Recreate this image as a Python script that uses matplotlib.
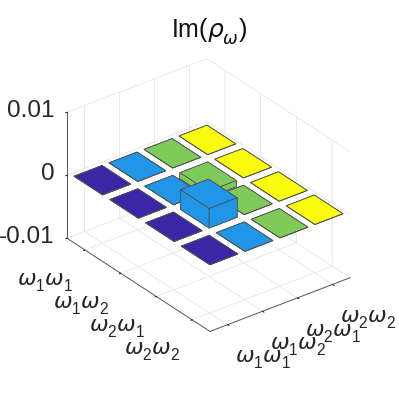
import numpy as np
import matplotlib
matplotlib.use("Agg")
import matplotlib.pyplot as plt
import matplotlib._mathtext as mathtext_internals

plt.rcParams['font.family'] = ['Liberation Sans', 'DejaVu Sans']
plt.rcParams['mathtext.fontset'] = 'custom'
plt.rcParams['mathtext.rm'] = 'Liberation Sans'
plt.rcParams['mathtext.it'] = 'DejaVu Sans:italic'
plt.rcParams['grid.color'] = '#e6e6e6'
plt.rcParams['grid.linewidth'] = 0.6
plt.rcParams['axes.linewidth'] = 0.6
mathtext_internals.FontConstantsBase.sub1 = 0.55

tick_labels = [r'$\omega_1\omega_1$', r'$\omega_1\omega_2$', r'$\omega_2\omega_1$', r'$\omega_2\omega_2$']
row_pos = [1, 2, 3, 4]
col_pos = [1, 2, 3, 4]
z_ticks = [-0.01, 0, 0.01]
z_tick_labels = ['-0.01', '0', '0.01']
values = [
    [0, 0, 0, 0],
    [0, 0, -0.00095, 0],
    [0, 0.0031, 0, 0],
    [0, 0, 0, 0],
]
col_colors = ['#3b27a6', '#2196e8', '#7fcb5a', '#fafb0f']
bar_width = 0.8

fig = plt.figure(figsize=(3.99, 3.99), dpi=100, facecolor='white')
ax = fig.add_axes([3.6 / 399, -0.9 / 399, 1, 1], projection='3d', computed_zorder=True)
ax.patch.set_alpha(0)
ax.set_proj_type('ortho')
ax.view_init(elev=30, azim=-37.5)
ax.set_box_aspect((234.9, 176.5, 145.5), zoom=0.7976)

xs, ys, dz, cols = [], [], [], []
for i, r in enumerate(row_pos):
    for j, c in enumerate(col_pos):
        xs.append(r - bar_width / 2)
        ys.append(c - bar_width / 2)
        dz.append(values[i][j])
        cols.append(col_colors[j])
ax.bar3d(xs, ys, np.zeros(len(xs)), bar_width, bar_width, dz, color=cols,
         edgecolor='#505050', linewidth=0.55, shade=False)

ax.set_xlim(0.5, 4.5, view_margin=0)
ax.set_ylim(0.5, 4.5, view_margin=0)
ax.set_zlim(-0.01, 0.01, view_margin=0)
ax.set_xticks(row_pos)
ax.set_yticks(col_pos)
ax.set_zticks(z_ticks)
ax.set_xticklabels(tick_labels, fontsize=16, color='#262626', ha='right', va='top')
ax.set_yticklabels(tick_labels, fontsize=16, color='#262626', ha='left', va='center')
ax.set_zticklabels(z_tick_labels, fontsize=17.5, color='#262626', ha='right', va='center')
ax.zaxis.set_ticks_position('lower')
ax.tick_params(axis='x', pad=9.5)
ax.tick_params(axis='y', pad=10)
ax.tick_params(axis='z', pad=-1.5)

for axis in (ax.xaxis, ax.yaxis, ax.zaxis):
    axis.set_pane_color((1, 1, 1, 0))
    axis.pane.set_edgecolor((1, 1, 1, 0))
    axis.line.set_color('#555555')
    axis.line.set_linewidth(0.7)
    axis._axinfo['tick']['inward_factor'] = 0.12
    axis._axinfo['tick']['outward_factor'] = 0.0
    axis._axinfo['tick']['linewidth'] = {True: 0.6, False: 0.6}
    axis._axinfo['tick']['color'] = '#555555'

ax.set_title(r'Im($\rho_\omega$)', fontsize=18, color='#111111', x=0.515, y=0.965)


def nudge(label, dx_px, dy_px):
    """Shift a tick label by a few pixels each time mplot3d places it."""
    unit = 0.185 / 399
    place = label.set_position
    label.set_position = lambda xy: place((xy[0] + dx_px * unit, xy[1] + dy_px * unit))


for tick in ax.xaxis.get_major_ticks():
    nudge(tick.label1, 5, 0)
for tick in ax.yaxis.get_major_ticks():
    nudge(tick.label1, -10, -9)
fig.savefig('out.png', dpi=100)
